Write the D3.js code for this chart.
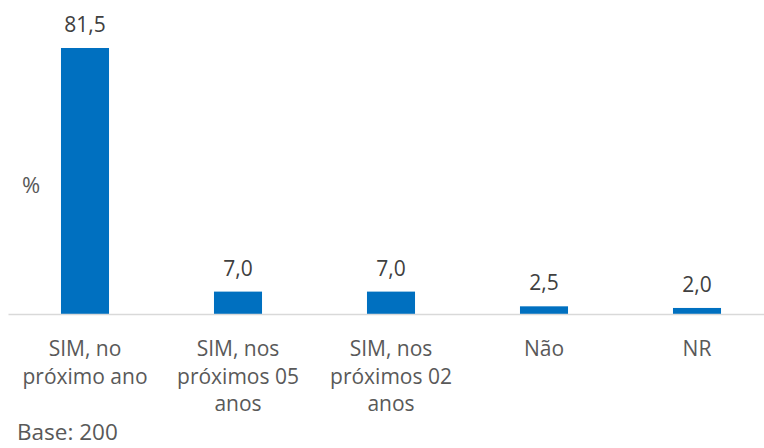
<!DOCTYPE html>
<html>
<head>
<meta charset="utf-8">
<script src="https://cdn.jsdelivr.net/npm/d3@7"></script>
<style>
  html, body { margin: 0; padding: 0; background: #fff; }
  svg { display: block; font-family: "Open Sans", sans-serif; }
</style>
</head>
<body>
<svg id="chart" width="764" height="448"></svg>
<script>
// Intenção de compra (%)
const categories = ["SIM, no próximo ano", "SIM, nos próximos 05 anos", "SIM, nos próximos 02 anos", "Não", "NR"];
const values = [81.5, 7.0, 7.0, 2.5, 2.0];
const axisTitle = "%";
const baseNote = "Base: 200";

const svg = d3.select("#chart");
const W = 764, H = 448;
const baseline = 314.5;
const FS = 21;

const x = d3.scaleBand()
  .domain(categories)
  .range([8.5, 773.5])
  .paddingInner(0.686)
  .paddingOuter(0.343);

const y = d3.scaleLinear()
  .domain([0, 90])
  .range([baseline, baseline - 294.3]);

const fmt = v => d3.format(".1f")(v).replace(".", ",");

// bars
svg.append("g").selectAll("rect")
  .data(values)
  .join("rect")
  .attr("x", (d, i) => x(categories[i]))
  .attr("width", x.bandwidth())
  .attr("y", d => y(d))
  .attr("height", d => baseline - y(d))
  .attr("fill", "#0070c0");

// baseline axis
svg.append("line")
  .attr("x1", 8.5).attr("x2", W)
  .attr("y1", baseline).attr("y2", baseline)
  .attr("stroke", "#d9d9d9").attr("stroke-width", 1.3);

// value labels
svg.append("g").selectAll("text")
  .data(values)
  .join("text")
  .attr("x", (d, i) => x(categories[i]) + x.bandwidth() / 2)
  .attr("y", d => y(d) - 16)
  .attr("text-anchor", "middle")
  .attr("font-size", FS)
  .attr("fill", "#404040")
  .text(fmt);

// category labels, wrapped to the band width
function wrapLines(text, maxW, size) {
  const tmp = svg.append("text").attr("font-size", size).attr("visibility", "hidden");
  const words = text.split(" ");
  const lines = [];
  let cur = "";
  words.forEach(w => {
    const test = cur ? cur + " " + w : w;
    tmp.text(test);
    if (tmp.node().getComputedTextLength() > maxW && cur) {
      lines.push(cur);
      cur = w;
    } else {
      cur = test;
    }
  });
  if (cur) lines.push(cur);
  tmp.remove();
  return lines;
}

const labelG = svg.append("g");
categories.forEach(c => {
  const lines = wrapLines(c, 135, FS);
  const t = labelG.append("text")
    .attr("text-anchor", "middle")
    .attr("font-size", FS)
    .attr("fill", "#595959");
  lines.forEach((ln, j) => {
    t.append("tspan")
      .attr("x", x(c) + x.bandwidth() / 2)
      .attr("y", 356 + j * 27.5)
      .text(ln);
  });
});

// axis title
svg.append("text")
  .attr("x", 31).attr("y", 193)
  .attr("text-anchor", "middle")
  .attr("font-size", 22)
  .attr("fill", "#595959")
  .text(axisTitle);

// sample note
svg.append("text")
  .attr("x", 17).attr("y", 440)
  .attr("font-size", 22.5)
  .attr("fill", "#595959")
  .text(baseNote);
</script>
</body>
</html>
